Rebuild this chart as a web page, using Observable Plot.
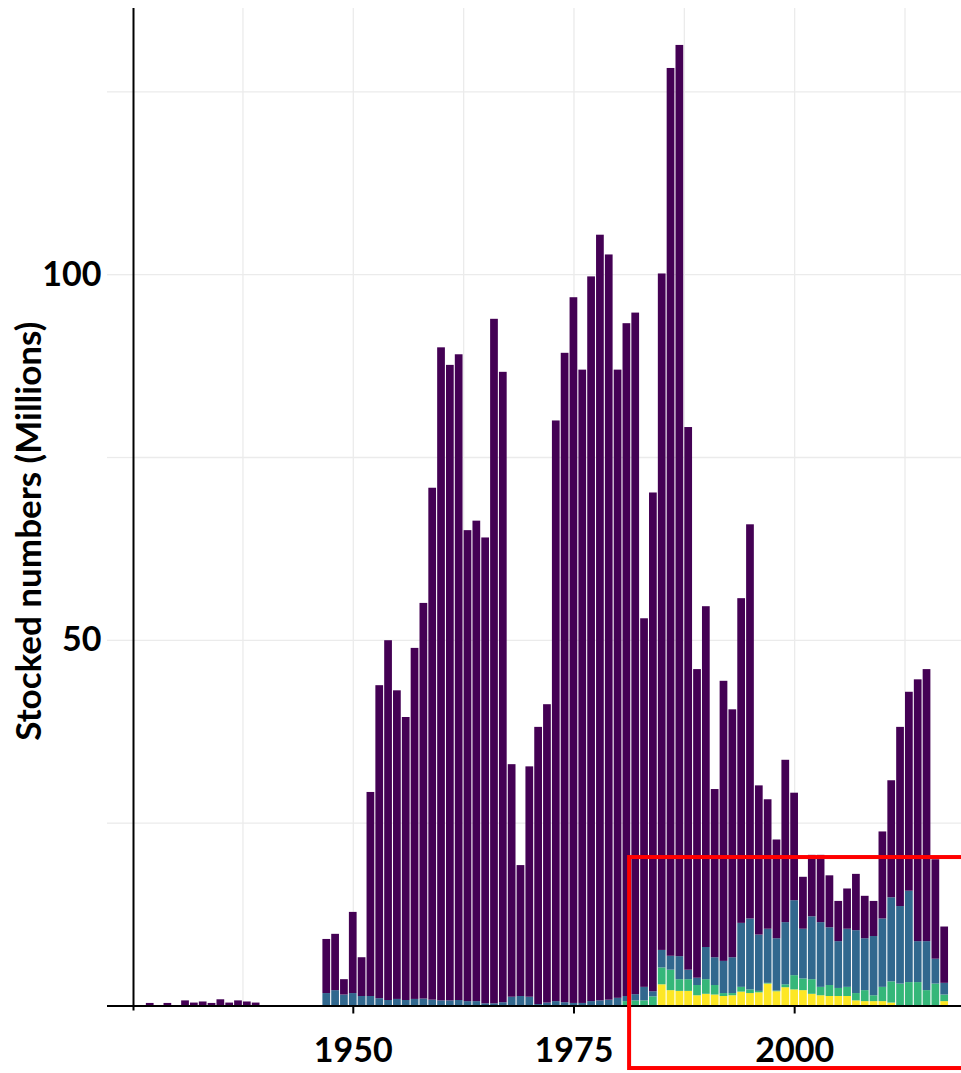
<!DOCTYPE html>
<html><head><meta charset="utf-8">
<script src="https://cdn.jsdelivr.net/npm/d3@7"></script>
<script src="https://cdn.jsdelivr.net/npm/@observablehq/plot@0.6"></script>
<style>body{margin:0;background:#fff} svg{display:block}</style>
</head><body><div id="chart"></div>
<script>
const years = [1927,1929,1931,1932,1933,1934,1935,1936,1937,1938,1939,
  1947,1948,1949,1950,1951,1952,1953,1954,1955,1956,
  1957,1958,1959,1960,1961,1962,1963,1964,1965,1966,
  1967,1968,1969,1970,1971,1972,1973,1974,1975,1976,
  1977,1978,1979,1980,1981,1982,1983,1984,1985,1986,
  1987,1988,1989,1990,1991,1992,1993,1994,1995,1996,
  1997,1998,1999,2000,2001,2002,2003,2004,2005,2006,
  2007,2008,2009,2010,2011,2012,2013,2014,2015,2016,2017];
// stacked segments (millions), bottom to top: yellow, green, blue, purple
const purple = [0.35,0.35,0.7,0.4,0.55,0.35,0.85,0.4,0.7,0.55,0.4,
  7.4,7.7,2.1,11.1,5.3,27.9,42.8,49.2,42.2,38.7,
  48.0,54.1,70.0,89.3,86.9,88.3,64.4,65.7,63.7,93.6,
  86.2,31.8,17.9,31.5,37.9,40.8,79.4,88.8,96.5,86.6,
  99.1,104.7,101.9,85.9,92.0,93.2,50.4,68.2,92.5,121.4,
  124.6,74.2,42.2,46.6,23.0,38.3,33.9,44.4,53.9,20.4,
  17.7,13.5,22.2,14.7,7.1,8.4,9.2,7.1,5.5,5.5,
  7.7,5.8,4.8,11.9,16.0,24.5,27.2,35.8,37.2,13.6,7.7];
const blue = [0,0,0,0,0,0,0,0,0,0,0,
  1.7,2.1,1.5,1.7,1.3,1.3,1.0,0.75,0.9,0.75,
  0.9,0.95,0.8,0.7,0.7,0.75,0.6,0.6,0.3,0.3,
  0.45,1.2,1.3,1.2,0.2,0.4,0.6,0.45,0.35,0.35,
  0.6,0.7,0.8,1.05,0.7,0.85,1.85,0.7,2.4,1.9,
  3.15,1.3,1.0,4.4,3.8,4.4,4.9,8.75,9.7,7.7,
  7.4,7.15,8.5,10.25,6.8,8.6,8.85,7.9,6.4,7.95,
  8.6,7.1,8.1,9.35,11.5,10.6,12.5,5.6,6.7,3.4,1.6];
const green = [0,0,0,0,0,0,0,0,0,0,0,
  0,0,0,0,0,0,0,0,0,0,
  0,0,0,0,0,0,0,0,0,0,
  0,0,0,0,0,0,0,0,0,0,
  0,0,0,0,0.6,0.7,0.7,1.25,2.3,2.8,
  1.6,1.6,1.4,2.0,1.3,0.4,0.3,0.65,0.5,0.2,
  0.1,0.1,0.4,1.95,1.6,2.0,1.15,1.5,1.1,1.25,
  1.0,1.5,0.8,1.95,2.9,3.0,3.2,3.2,2.1,3.0,0.9];
const yellow = [0,0,0,0,0,0,0,0,0,0,0,
  0,0,0,0,0,0,0,0,0,0,
  0,0,0,0,0,0,0,0,0,0,
  0,0,0,0,0,0,0,0,0,0,
  0,0,0,0,0,0,0,0,2.9,2.1,
  2.0,2.0,1.4,1.6,1.5,1.3,1.4,1.9,1.7,1.8,
  3.0,1.95,2.5,2.2,2.1,1.6,1.4,1.3,1.3,1.3,
  0.7,0.6,0.6,0.6,0.4,0,0,0,0,0,0.6];

const seriesNames = ["Group D","Group C","Group B","Group A"]; // bottom -> top
const seriesColors = ["#fde725","#35b779","#31688e","#440154"];
const seriesValues = [yellow, green, blue, purple];

const yTicks = [25,50,75,100,125];
const yTickLabels = [50,100];
const xTicks = [1950,1975,2000];
const xGrid = [1937.5,1950,1962.5,1975,1987.5,2000,2012.5];
const xDomain = [1925.1, 2018.9];
const yDomain = [0, 136.4];
const yLabel = "Stocked numbers (Millions)";
// highlighted region (red box annotation), in data units
const highlight = [{x1: 1981.3, x2: 2020, y1: -8.55, y2: 20.3}];

const rows = [];
years.forEach((yr, i) => {
  let cum = 0;
  seriesValues.forEach((arr, s) => {
    const v = arr[i];
    if (v > 0) {
      rows.push({year: yr, series: seriesNames[s], y1: cum, y2: cum + v});
      cum += v;
    }
  });
});

const font = "Lato, 'Open Sans', sans-serif";
const chart = Plot.plot({
  width: 961, height: 1073,
  marginLeft: 133, marginRight: 0, marginTop: 8, marginBottom: 67.5,
  x: {domain: xDomain},
  y: {domain: yDomain},
  color: {domain: seriesNames, range: seriesColors},
  style: {fontFamily: font, background: "white", color: "black"},
  marks: [
    Plot.gridX(xGrid, {stroke: "#ebebeb", strokeOpacity: 1, strokeWidth: 1.3}),
    Plot.gridY(yTicks, {stroke: "#ebebeb", strokeOpacity: 1, strokeWidth: 1.3}),
    Plot.rectY(rows, {x1: d => d.year - 0.5, x2: d => d.year + 0.5, y1: "y1", y2: "y2", fill: "series", insetLeft: 0.5, insetRight: 0.6}),
    Plot.axisY(yTicks, {tickSize: 26, stroke: "#ebebeb", strokeOpacity: 1, strokeWidth: 1.3, fill: "black", tickPadding: 6,
      fontSize: 34, fontWeight: "bold", tickFormat: d => yTickLabels.includes(d) ? String(d) : "", label: null}),
    Plot.text([yLabel], {frameAnchor: "left", text: d => d, rotate: -90, dx: -104, dy: 24,
      fontSize: 35, fontWeight: "bold", fill: "black", lineAnchor: "middle", textAnchor: "middle"}),
    Plot.axisY([0], {tickSize: 26, stroke: "black", strokeWidth: 2, tickFormat: () => "", label: null}),
    Plot.ruleY([0], {stroke: "black", strokeWidth: 2}),
    Plot.ruleX([xDomain[0]], {stroke: "black", strokeWidth: 2, insetBottom: -5}),
    Plot.axisX(xTicks, {tickSize: 8, stroke: "black", strokeWidth: 2, tickPadding: 24, fontSize: 34, fontWeight: "bold",
      tickFormat: d => String(d), label: null}),
    Plot.rect(highlight, {x1: "x1", x2: "x2", y1: "y1", y2: "y2", fill: "none", stroke: "#ff0000", strokeWidth: 4, clip: false})
  ]
});
document.getElementById("chart").appendChild(chart);
</script>
</body></html>
